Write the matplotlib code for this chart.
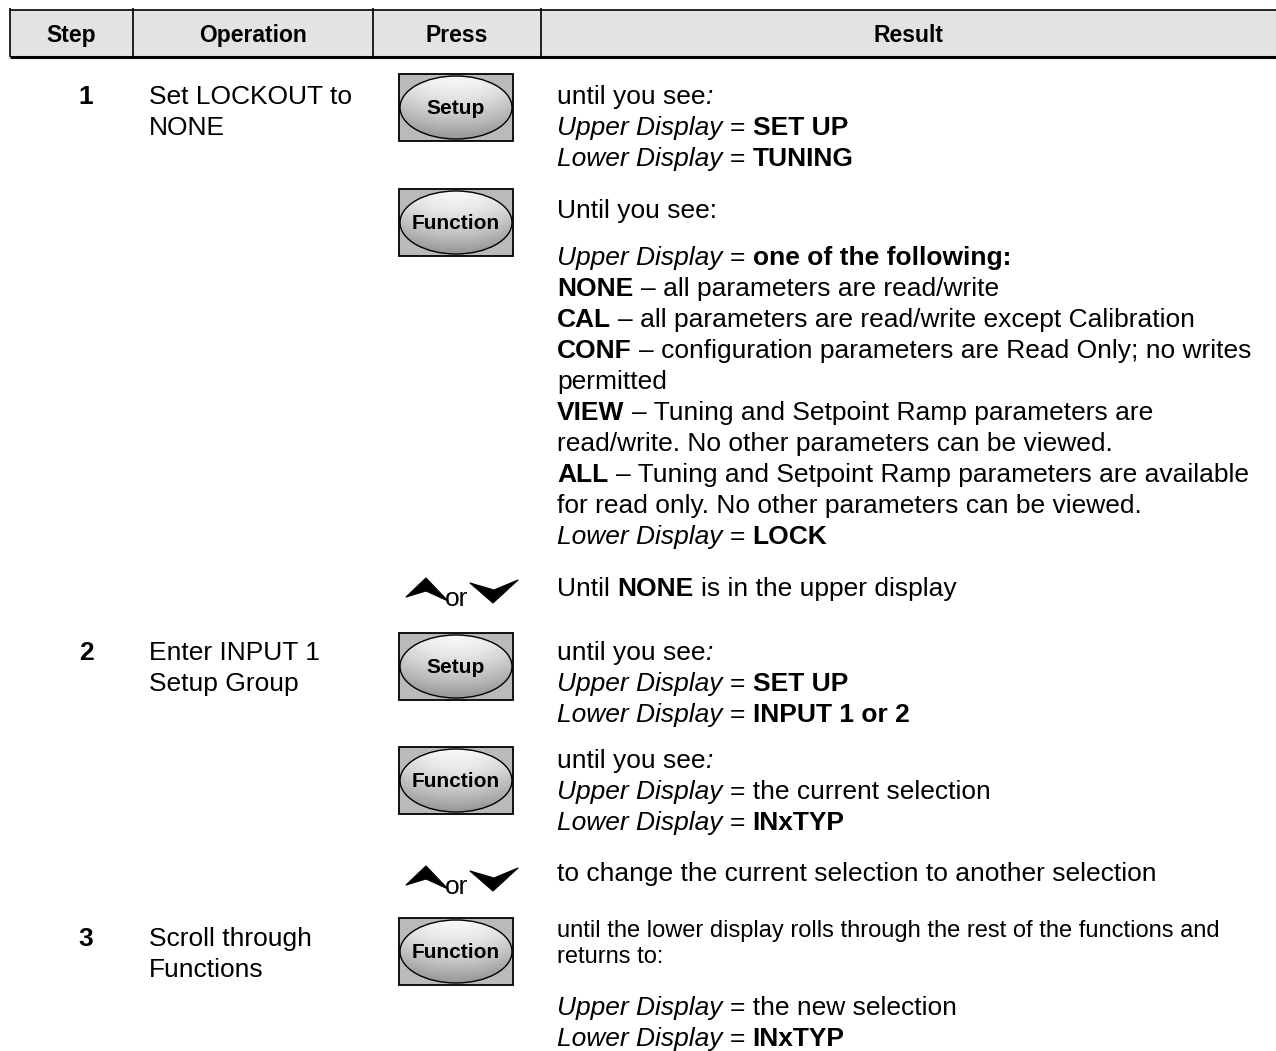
import re
import numpy as np
import matplotlib
matplotlib.use("Agg")
import matplotlib.pyplot as plt
from matplotlib.patches import Rectangle, Ellipse, Polygon

# ---------------- data ----------------
header_labels = ["Step", "Operation", "Press", "Result"]
steps = ["1", "2", "3"]
operations = [["Set LOCKOUT to", "NONE"],
              ["Enter INPUT 1", "Setup Group"],
              ["Scroll through", "Functions"]]
press_keys = ["Setup", "Function", "arrows", "Setup", "Function", "arrows", "Function"]

result_blocks = [
    ["until you see*:*", "*Upper Display* = **SET UP**", "*Lower Display* = **TUNING**"],
    ["Until you see:"],
    ["*Upper Display* = **one of the following:**",
     "**NONE** – all parameters are read/write",
     "**CAL** – all parameters are read/write except Calibration",
     "**CONF** – configuration parameters are Read Only; no writes",
     "permitted",
     "**VIEW** – Tuning and Setpoint Ramp parameters are",
     "read/write. No other parameters can be viewed.",
     "**ALL** – Tuning and Setpoint Ramp parameters are available",
     "for read only. No other parameters can be viewed.",
     "*Lower Display* = **LOCK**"],
    ["Until **NONE** is in the upper display"],
    ["until you see*:*", "*Upper Display* = **SET UP**", "*Lower Display* = **INPUT 1 or 2**"],
    ["until you see*:*", "*Upper Display* = the current selection", "*Lower Display* = **INxTYP**"],
    ["to change the current selection to another selection"],
    ["until the lower display rolls through the rest of the functions and", "returns to:"],
    ["*Upper Display* = the new selection", "*Lower Display* = **INxTYP**"],
]
small_blocks = [7]

# ---------------- layout ----------------
W, H = 1276, 1051
FONT = ["Liberation Sans", "DejaVu Sans"]
col_edges = [10, 133, 373, 541, 1276]
head_top, head_bot = 10, 57
MAIN, SMALL, HEAD, BTN = 19, 17, 16.5, 15
LS_MAIN, LS_SMALL = 31, 26

step_y = [104, 660, 946]
press_tops = [74, 189, None, 633, 747, None, 918]
arrow_y = [578, 866]
block_y = [104, 218, 265, 596, 660, 768, 881, 937, 1015]
res_x = 557
op_x = 149
step_x = 86

fig = plt.figure(figsize=(W / 100, H / 100), dpi=100)
ax = fig.add_axes([0, 0, 1, 1])
ax.set_xlim(0, W)
ax.set_ylim(H, 0)
ax.axis("off")
renderer = fig.canvas.get_renderer()

_sp_cache = {}


def text_w(s, size, weight, style):
    t = ax.text(0, 0, s, fontsize=size, fontweight=weight, fontstyle=style, family=FONT)
    w = t.get_window_extent(renderer=renderer).width
    t.remove()
    return w


def space_w(size, weight, style):
    key = (size, weight, style)
    if key not in _sp_cache:
        _sp_cache[key] = text_w("x x", size, weight, style) - text_w("xx", size, weight, style)
    return _sp_cache[key]


def rich(x, y, markup, size):
    parts = re.split(r"(\*\*.+?\*\*|\*.+?\*)", markup)
    for p in parts:
        if not p:
            continue
        if p.startswith("**"):
            s, wt, st = p[2:-2], "bold", "normal"
        elif p.startswith("*"):
            s, wt, st = p[1:-1], "normal", "italic"
        else:
            s, wt, st = p, "normal", "normal"
        lead = len(s) - len(s.lstrip(" "))
        trail = len(s) - len(s.rstrip(" "))
        core = s.strip(" ")
        sp = space_w(size, wt, st)
        x += lead * sp
        if core:
            t = ax.text(x, y, core, fontsize=size, fontweight=wt, fontstyle=st,
                        family=FONT, va="baseline", ha="left", color="black")
            x += t.get_window_extent(renderer=renderer).width
        x += trail * sp
    return x


# ---------------- header ----------------
ax.add_patch(Rectangle((col_edges[0], head_top), col_edges[-1] - col_edges[0],
                       head_bot - head_top, facecolor="#e3e3e3", edgecolor="none"))
ax.plot([col_edges[0], W], [head_top, head_top], color="black", lw=1.2, solid_capstyle="butt")
ax.plot([col_edges[0], W], [head_bot, head_bot], color="black", lw=2.2, solid_capstyle="butt")
for xe in col_edges[:-1]:
    ax.plot([xe, xe], [head_top - 2, head_bot], color="black", lw=1.2, solid_capstyle="butt")
for i, lab in enumerate(header_labels):
    xc = (col_edges[i] + col_edges[i + 1]) / 2
    ax.text(xc, 42, lab, fontsize=HEAD, fontweight="bold", family=FONT,
            ha="center", va="baseline")

# ---------------- steps & operations ----------------
for i, s in enumerate(steps):
    ax.text(step_x, step_y[i], s, fontsize=MAIN, fontweight="bold", family=FONT,
            ha="center", va="baseline")
    for j, line in enumerate(operations[i]):
        ax.text(op_x, step_y[i] + j * LS_MAIN, line, fontsize=MAIN, family=FONT,
                ha="left", va="baseline")

# ---------------- buttons ----------------
BX0, BX1, BH = 399, 513, 67
grad_h = np.linspace(0, 1, 80)[:, None]
grad_w = np.linspace(-1, 1, 160)[None, :]
grad = 0.97 - 0.40 * grad_h ** 1.6 - 0.10 * grad_w ** 2
grad = np.clip(grad, 0, 1)


def draw_button(label, top):
    ax.add_patch(Rectangle((BX0, top), BX1 - BX0, BH, facecolor="#bababa",
                           edgecolor="black", lw=1.3, zorder=2))
    cx, cy = (BX0 + BX1) / 2, top + BH / 2
    ell = Ellipse((cx, cy), BX1 - BX0 - 2, BH - 4, facecolor="none",
                  edgecolor="black", lw=1.0, zorder=4)
    im = ax.imshow(grad, cmap="gray", vmin=0, vmax=1, aspect="auto",
                   extent=[BX0, BX1, top + BH, top], origin="upper",
                   interpolation="bilinear", zorder=3)
    ax.add_patch(ell)
    im.set_clip_path(ell)
    ax.text(cx, cy + 1, label, fontsize=BTN, fontweight="bold", family=FONT,
            ha="center", va="center", zorder=5)


def draw_arrows(y0):
    up = [(406, y0 + 19), (426, y0), (448, y0 + 23), (426, y0 + 13)]
    dn = [(470, y0 + 5), (494, y0 + 12), (518, y0 + 2), (493, y0 + 25)]
    ax.add_patch(Polygon(up, closed=True, facecolor="black", edgecolor="black",
                         lw=0.8, joinstyle="round", zorder=3))
    ax.add_patch(Polygon(dn, closed=True, facecolor="black", edgecolor="black",
                         lw=0.8, joinstyle="round", zorder=3))
    ax.text(445, y0 + 28, "or", fontsize=MAIN, family=FONT, ha="left", va="baseline")


ai = 0
for k, key in enumerate(press_keys):
    if key == "arrows":
        draw_arrows(arrow_y[ai])
        ai += 1
    else:
        draw_button(key, press_tops[k])

ax.set_xlim(0, W)
ax.set_ylim(H, 0)

# ---------------- results ----------------
for b, lines in enumerate(result_blocks):
    size = SMALL if b in small_blocks else MAIN
    ls = LS_SMALL if b in small_blocks else LS_MAIN
    for j, line in enumerate(lines):
        rich(res_x, block_y[b] + j * ls, line, size)

fig.savefig("out.png", dpi=100, facecolor="white")
